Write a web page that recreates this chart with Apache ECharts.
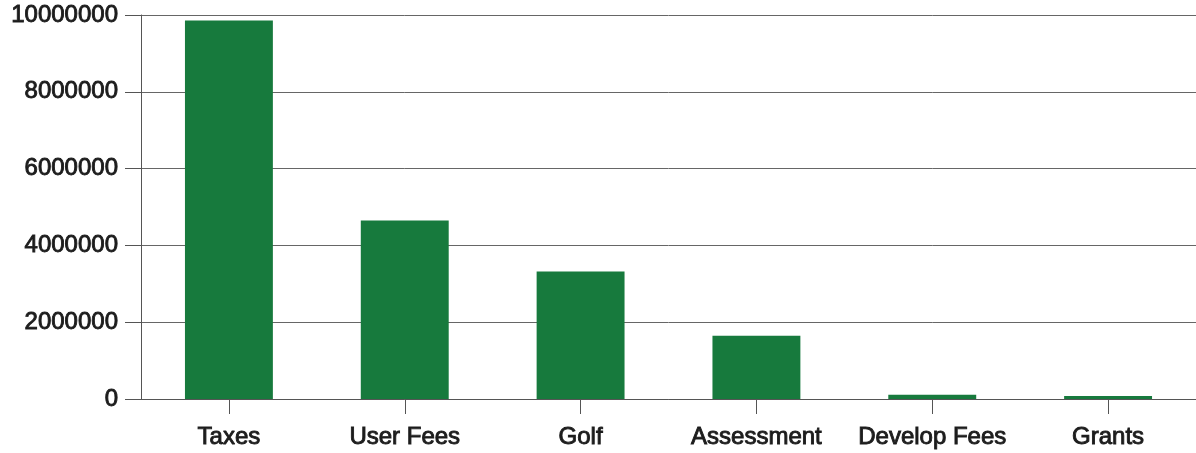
<!DOCTYPE html>
<html>
<head>
<meta charset="utf-8">
<script src="https://cdn.jsdelivr.net/npm/echarts@6/dist/echarts.min.js"></script>
<style>html,body{margin:0;padding:0;background:#fff}#c{width:1196px;height:453px}</style>
</head>
<body>
<div id="c"></div>
<script>
const categories = ["Taxes", "User Fees", "Golf", "Assessment", "Develop Fees", "Grants"];
const revenue = [9860000, 4650000, 3320000, 1650000, 110000, 80000];
const yTicks = { min: 0, max: 10000000, interval: 2000000 };

const chart = echarts.init(document.getElementById('c'), null, { renderer: 'canvas' });
const txt = { fontFamily: '"Liberation Sans", Arial, sans-serif', fontSize: 24, color: '#1c1c1c', textBorderColor: '#1c1c1c', textBorderWidth: 0.9 };
chart.setOption({
  animation: false,
  backgroundColor: '#ffffff',
  grid: { left: 141, right: 0, top: 15, bottom: 54, containLabel: false },
  xAxis: {
    type: 'category',
    data: categories,
    axisLine: { show: true, lineStyle: { color: '#555', width: 1 } },
    axisTick: { show: true, alignWithLabel: true, length: 15, lineStyle: { color: '#555' } },
    axisLabel: Object.assign({ margin: 26, interval: 0 }, txt),
    splitLine: { show: false }
  },
  yAxis: {
    type: 'value',
    min: yTicks.min, max: yTicks.max, interval: yTicks.interval,
    axisLine: { show: true, lineStyle: { color: '#555', width: 1 } },
    axisTick: { show: true, inside: false, length: 16, lineStyle: { color: '#555' } },
    axisLabel: Object.assign({ margin: 23, formatter: function (v) { return String(v); } }, txt),
    splitLine: { show: true, lineStyle: { color: '#666', width: 1 } }
  },
  series: [{
    type: 'bar',
    data: revenue,
    barWidth: '50%',
    itemStyle: { color: '#177a3d' }
  }]
});
</script>
</body>
</html>
